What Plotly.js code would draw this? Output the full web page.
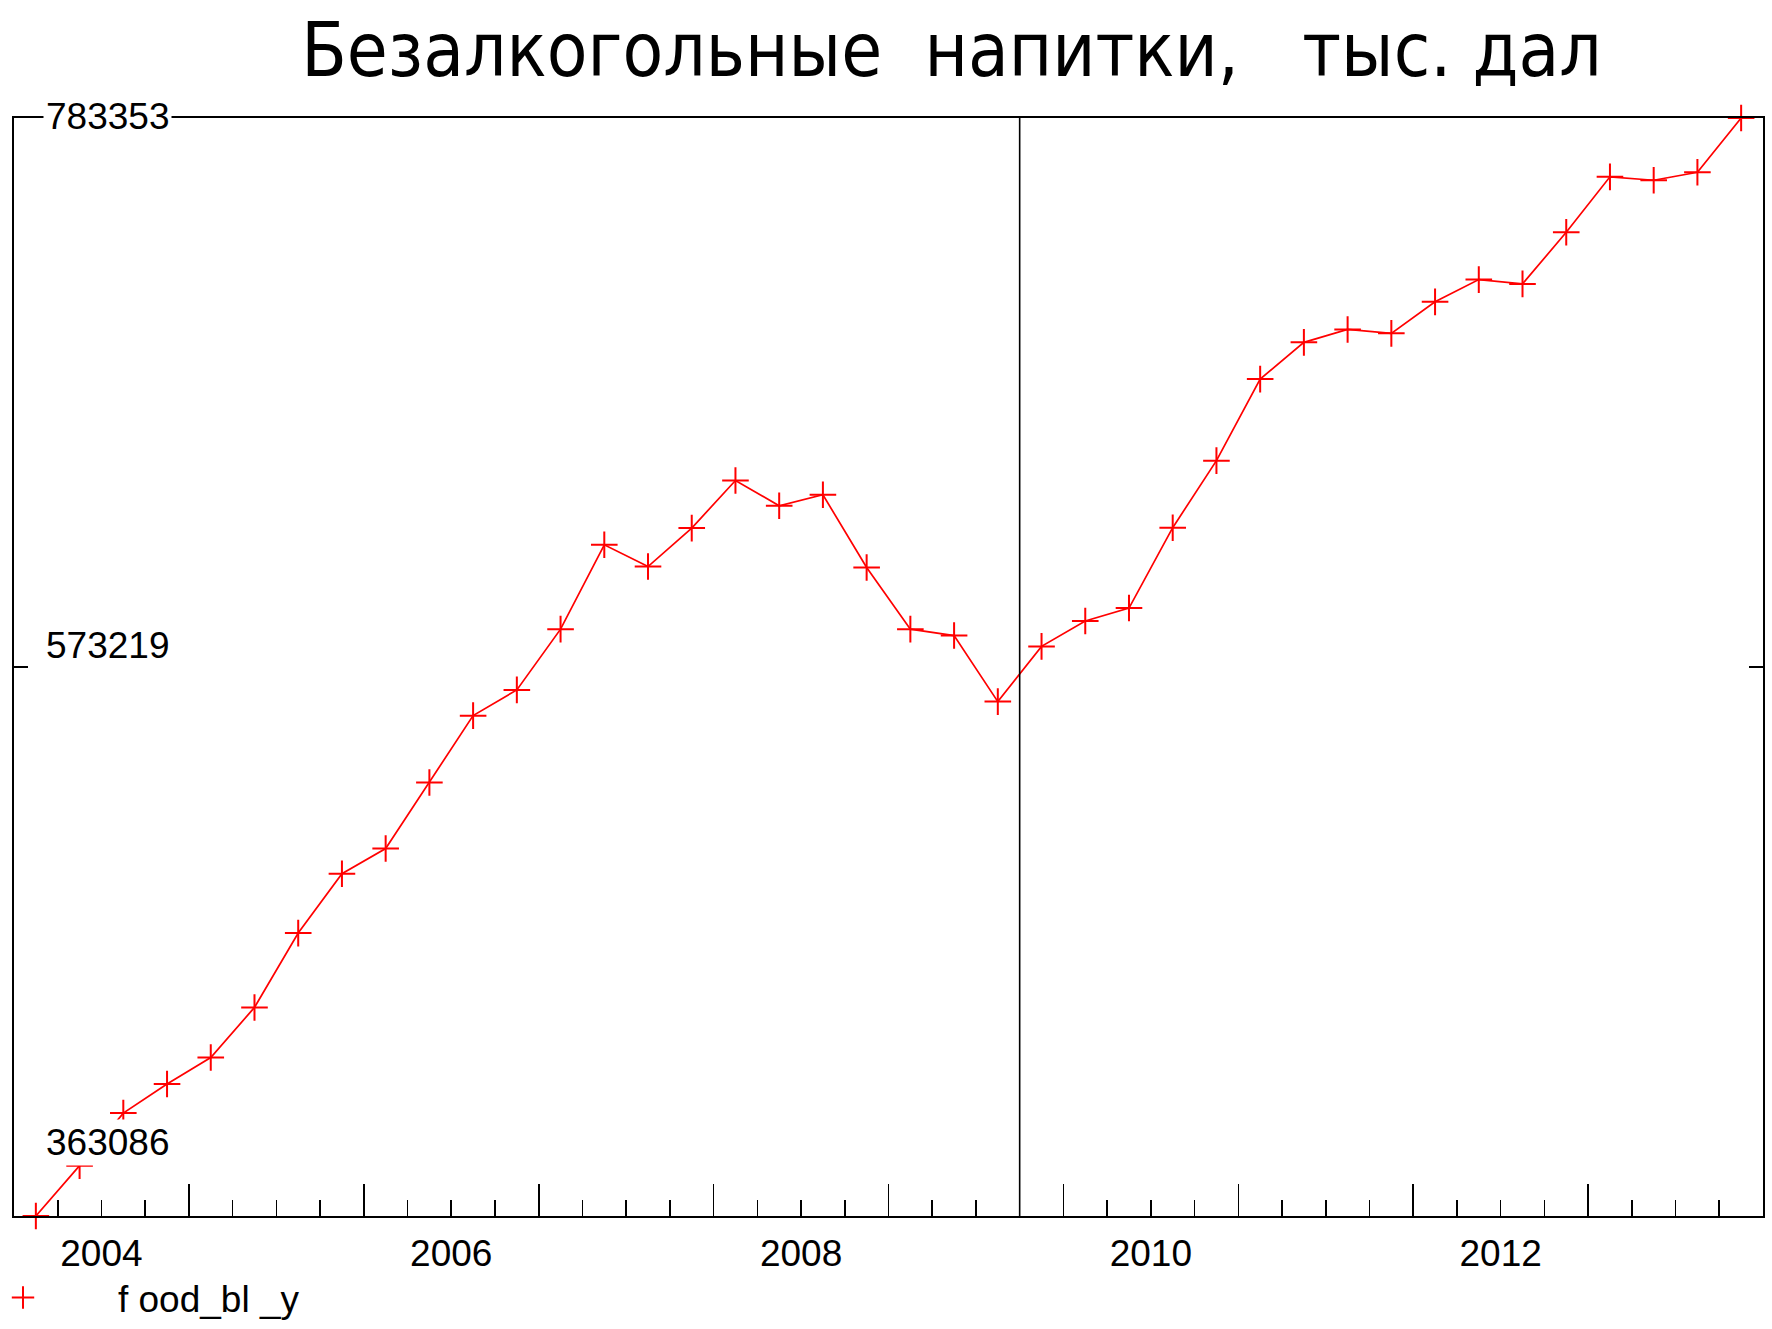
<!DOCTYPE html>
<html>
<head>
<meta charset="utf-8">
<script src="https://cdn.plot.ly/plotly-3.0.1.min.js"></script>
<style>
html, body { margin: 0; padding: 0; background: #ffffff; }
#chart { width: 1772px; height: 1329px; }
</style>
</head>
<body>
<div id="chart"></div>
<script>
// ---- data (quarterly, 2004 Q1 .. 2013 Q4), thousand decalitres ----
const quarters = [
  "2004 Q1","2004 Q2","2004 Q3","2004 Q4",
  "2005 Q1","2005 Q2","2005 Q3","2005 Q4",
  "2006 Q1","2006 Q2","2006 Q3","2006 Q4",
  "2007 Q1","2007 Q2","2007 Q3","2007 Q4",
  "2008 Q1","2008 Q2","2008 Q3","2008 Q4",
  "2009 Q1","2009 Q2","2009 Q3","2009 Q4",
  "2010 Q1","2010 Q2","2010 Q3","2010 Q4",
  "2011 Q1","2011 Q2","2011 Q3","2011 Q4",
  "2012 Q1","2012 Q2","2012 Q3","2012 Q4",
  "2013 Q1","2013 Q2","2013 Q3","2013 Q4"
];
const foodValues = [
  363086, 382360, 402468, 413614,
  423726, 442916, 471375, 494089,
  503741, 528983, 554607, 564451,
  587701, 619991, 611679, 626387,
  644619, 634929, 639142, 611296,
  587701, 585250, 559970, 581113,
  590804, 595783, 626541, 652204,
  683420, 697478, 702419, 700925,
  712991, 721494, 719847, 739611,
  760831, 759529, 762593, 783353
];
const seriesName = "f ood_bl _y";
const titleText = "Безалкогольные\u00a0\u00a0напитки,\u00a0\u00a0\u00a0тыс.\u00a0дал";
const yTickValues = [363086, 573219, 783353];
const yTickLabels = ["363086", "573219", "783353"];
const yearLabelValues = [2004.5, 2006.5, 2008.5, 2010.5, 2012.5];
const yearLabels = ["2004", "2006", "2008", "2010", "2012"];
const breakDate = 2009.75;

// quarter label -> decimal year at middle of the quarter
const xValues = quarters.map(q => {
  const parts = q.split(" Q");
  return Number(parts[0]) + (Number(parts[1]) - 1) * 0.25 + 0.125;
});

const FONT = "Liberation Sans, Arimo, Arial, sans-serif";
const RED = "#ff0000";

const lineTrace = {
  x: xValues,
  y: foodValues,
  type: "scatter",
  mode: "lines",
  name: seriesName,
  showlegend: false,
  line: { color: RED, width: 1.7 },
  cliponaxis: false,
  xaxis: "x",
  yaxis: "y"
};

const markerTrace = {
  x: xValues,
  y: foodValues,
  type: "scatter",
  mode: "markers",
  name: "\u00a0\u00a0\u00a0\u00a0\u00a0\u00a0\u00a0" + seriesName,
  marker: { symbol: "cross-thin-open", size: 19, color: RED, line: { color: RED, width: 2 } },
  cliponaxis: false,
  xaxis: "x",
  yaxis: "y"
};

// empty trace on the label axis so that axis is drawn
const labelTrace = {
  x: [2004, 2014],
  y: [yTickValues[0], yTickValues[0]],
  type: "scatter",
  mode: "none",
  showlegend: false,
  hoverinfo: "skip",
  xaxis: "x2",
  yaxis: "y"
};

const yAnnotShift = [74, 22, 2];
const annotations = yTickValues.map((v, i) => ({
  xref: "paper", yref: "y",
  x: 0, y: v,
  xanchor: "left", yanchor: "middle",
  xshift: 29, yshift: yAnnotShift[i],
  text: yTickLabels[i],
  showarrow: false,
  bgcolor: "#ffffff",
  borderpad: 2,
  font: { family: FONT, size: 37, color: "#000000" }
}));

const layout = {
  width: 1772,
  height: 1329,
  paper_bgcolor: "#ffffff",
  plot_bgcolor: "#ffffff",
  margin: { l: 14, r: 9, t: 118, b: 113, pad: 0 },
  title: {
    text: titleText,
    font: { family: "Liberation Sans Narrow, DejaVu Sans Condensed, Arial Narrow, sans-serif", size: 74, color: "#000000" },
    xref: "container", yref: "container",
    x: 0.537, xanchor: "center",
    y: 0.962, yanchor: "middle"
  },
  showlegend: true,
  legend: {
    xref: "container", yref: "container",
    x: 0, y: -0.015, xanchor: "left", yanchor: "bottom",
    orientation: "h",
    itemwidth: 36,
    font: { family: FONT, size: 37, color: "#000000" },
    bgcolor: "rgba(0,0,0,0)",
    borderwidth: 0
  },
  xaxis: {
    range: [2004, 2014],
    showgrid: false,
    zeroline: false,
    showline: true,
    linecolor: "#000000",
    linewidth: 1.6,
    mirror: true,
    tickmode: "linear",
    tick0: 2004,
    dtick: 1,
    ticks: "inside",
    ticklen: 32,
    tickwidth: 1.6,
    tickcolor: "#000000",
    showticklabels: false,
    minor: { tick0: 2004, dtick: 0.25, ticks: "inside", ticklen: 16, tickwidth: 1.6, tickcolor: "#000000", showgrid: false }
  },
  xaxis2: {
    range: [2004, 2014],
    overlaying: "x",
    anchor: "y",
    side: "bottom",
    showgrid: false,
    zeroline: false,
    showline: false,
    ticks: "",
    tickmode: "array",
    tickvals: yearLabelValues,
    ticktext: yearLabels,
    tickfont: { family: FONT, size: 37, color: "#000000" },
    ticklabelstandoff: 12
  },
  yaxis: {
    range: [yTickValues[0], yTickValues[2]],
    showgrid: false,
    zeroline: false,
    showline: true,
    linecolor: "#000000",
    linewidth: 1.6,
    mirror: "ticks",
    tickmode: "array",
    tickvals: [yTickValues[1]],
    ticks: "inside",
    ticklen: 14,
    tickwidth: 1.6,
    tickcolor: "#000000",
    showticklabels: false
  },
  shapes: [{
    type: "line",
    xref: "x", yref: "paper",
    x0: breakDate, x1: breakDate, y0: 0, y1: 1,
    line: { color: "#000000", width: 1.6 }
  }],
  annotations: annotations
};

Plotly.newPlot("chart", [lineTrace, markerTrace, labelTrace], layout, { staticPlot: true, displayModeBar: false });
</script>
</body>
</html>
